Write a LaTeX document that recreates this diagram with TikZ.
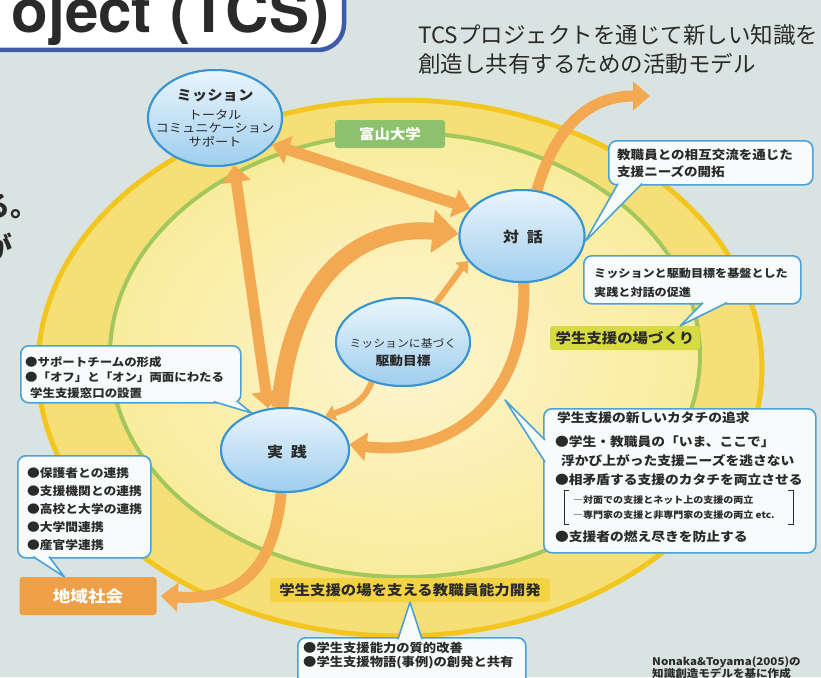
\documentclass[tikz,border=0pt]{standalone}
\usepackage{fontspec}
\setmainfont{Noto Sans CJK JP}
\newfontfamily\jpw[FakeStretch=1.1]{Noto Sans CJK JP}
\newfontfamily\heros{TeX Gyre Heros}
\usetikzlibrary{shapes.geometric,arrows.meta}
\definecolor{bgc}{HTML}{D9E3E1}
\definecolor{bandc}{HTML}{F6DF76}
\definecolor{innerc}{HTML}{FAEC9C}
\definecolor{innerl}{HTML}{FCF5D0}
\definecolor{rimy}{HTML}{F2C61F}
\definecolor{rimg}{HTML}{A2C75C}
\definecolor{ellb}{HTML}{3894D2}
\definecolor{elltop}{HTML}{EAF5FC}
\definecolor{ellbot}{HTML}{9FCEEE}
\definecolor{arr}{HTML}{F3A952}
\definecolor{callb}{HTML}{4AA2D8}
\definecolor{callf}{HTML}{F8FBFB}
\definecolor{titleb}{HTML}{3D5CA8}
\definecolor{labg}{HTML}{8CC26C}
\definecolor{labyg}{HTML}{D7DB42}
\definecolor{laby}{HTML}{F3D344}
\definecolor{labo}{HTML}{EF9F45}
\definecolor{txt}{HTML}{2A2A2A}
\newcommand{\mytail}[3]{\fill[callf] #1 -- #3 -- #2 -- cycle; \draw[tailline] #1 -- #3 -- #2;}
\begin{document}
\begin{tikzpicture}[x=1pt,y=-1pt,
  bubble/.style={ellipse, draw=ellb, line width=2pt, top color=elltop, bottom color=ellbot, inner sep=0pt},
  callbox/.style={draw=callb, line width=1.6pt, fill=callf, rounded corners=8pt, inner sep=0pt, anchor=north west},
  tailline/.style={draw=callb, line width=1.6pt, line join=round},
  ctext/.style={align=left, anchor=north west, inner sep=0pt, text=txt},
  lab/.style={rounded corners=3pt, inner sep=0pt, font=\jpw\bfseries\fontsize{14}{14}\selectfont},
  orarr/.style={draw=arr, line width=11pt, -{Triangle[length=17pt,width=28pt]}},
  orarr2/.style={draw=arr, line width=11pt, {Triangle[length=17pt,width=28pt]}-{Triangle[length=17pt,width=28pt]}},
  orbig/.style={draw=arr, line width=17pt, -{Triangle[length=26pt,width=42pt]}},
  orsmall/.style={draw=arr, line width=6pt, -{Triangle[length=10pt,width=16pt]}},
  btext/.style={inner sep=0pt, text=txt}
]
\useasboundingbox (0,0) rectangle (821,677);
\clip (0,0) rectangle (821,677);
\fill[bgc] (0,0) rectangle (821,677);

% title box
\draw[titleb, line width=4.5pt, fill=white, rounded corners=26pt] (-40,-40) rectangle (344,50);
\node[btext, anchor=base east, font=\heros\bfseries\fontsize{60}{60}\selectfont] (tt1) at (152,33) {oject};
\node[btext, anchor=base west, font=\heros\bfseries\fontsize{60}{60}\selectfont] (tt2) at (170,33) {(TCS)};

% cut-off text at the left
\node[btext, anchor=west, font=\bfseries\fontsize{28}{28}\selectfont] (frag1) at (-18,207) {る。};
\node[btext, anchor=west, font=\bfseries\fontsize{28}{28}\selectfont] (frag2) at (-16,246) {が};

% heading
\node[btext, anchor=west, font=\fontsize{22.5}{22.5}\selectfont] (h1) at (418,35) {TCSプロジェクトを通じて新しい知識を};
\node[btext, anchor=west, font=\fontsize{22.5}{22.5}\selectfont] (h2) at (418,64) {創造し共有するための活動モデル};

% big ellipses
\fill[bandc] (400,368) ellipse [x radius=362pt, y radius=268pt];
\draw[rimy, line width=5pt] (400,368) ellipse [x radius=362pt, y radius=268pt];
\shade[inner color=innerl, outer color=innerc] (405,355) ellipse [x radius=295pt, y radius=222pt];
\draw[rimg, line width=4pt] (405,355) ellipse [x radius=295pt, y radius=222pt];

% labels
\node[lab, fill=labg, text=white, minimum width=110pt, minimum height=28pt] (toyama) at (390,134) {富山大学};
\node[lab, fill=labyg, text=txt, minimum width=150pt, minimum height=24pt] (ba) at (625,338) {学生支援の場づくり};
\node[lab, fill=laby, text=txt, minimum width=280pt, minimum height=24pt] (dev) at (410,590) {学生支援の場を支える教職員能力開発};
\node[lab, fill=labo, text=white, minimum width=137pt, minimum height=38pt, font=\jpw\bfseries\fontsize{16}{16}\selectfont] (region) at (88,596) {地域社会};

% bubble nodes (placed first so arrows can refer to them)
\node[bubble, minimum width=134pt, minimum height=96pt] (M) at (215,118) {};
\node[bubble, minimum width=125pt, minimum height=92pt] (T) at (522,236) {};
\node[bubble, minimum width=134pt, minimum height=88pt] (K) at (403,342) {};
\node[bubble, minimum width=128pt, minimum height=84pt] (J) at (285,450) {};

% arrows
\coordinate (outp) at (650,96);
\draw[orarr2] (M.-25) -- (T.152);
\draw[orarr2] (M.-68) -- (J.112);
\draw[orarr] (T.-88) .. controls (528,400) and (450,458) .. (J.5);
\draw[orbig] (J.97) .. controls (292,265) and (370,225) .. (T.178);
\draw[orarr] (T.72) .. controls (556,125) and (590,96) .. (outp);
\draw[orarr] (J.-95) .. controls (272,585) and (225,600) .. ([xshift=4pt]region.east);
\draw[orsmall] (K.50) .. controls (450,285) and (460,270) .. (T.-155);
\draw[orsmall] (K.-128) .. controls (366,395) and (360,405) .. (J.40);

% redraw bubbles on top of arrows
\node[bubble, minimum width=134pt, minimum height=96pt] (M2) at (M) {};
\node[bubble, minimum width=125pt, minimum height=92pt] (T2) at (T) {};
\node[bubble, minimum width=134pt, minimum height=88pt] (K2) at (K) {};
\node[bubble, minimum width=128pt, minimum height=84pt] (J2) at (J) {};

% bubble texts
\node[btext, font=\jpw\bfseries\fontsize{14}{14}\selectfont] (Mt1) at (215,96) {ミッション};
\node[btext, font=\jpw\fontsize{12}{12}\selectfont] (Mt2) at (215,115) {トータル};
\node[btext, font=\jpw\fontsize{12}{12}\selectfont] (Mt3) at (215,128.5) {コミュニケーション};
\node[btext, font=\jpw\fontsize{12}{12}\selectfont] (Mt4) at (215,142) {サポート};
\node[btext, font=\jpw\bfseries\fontsize{14.5}{14.5}\selectfont] (Tt) at (523,237) {対\hspace{8pt}話};
\node[btext, font=\jpw\fontsize{10.8}{10.8}\selectfont] (Kt1) at (403,343) {ミッションに基づく};
\node[btext, font=\jpw\bfseries\fontsize{12.5}{12.5}\selectfont] (Kt2) at (403,361) {駆動目標};
\node[btext, font=\jpw\bfseries\fontsize{14.5}{14.5}\selectfont] (Jt) at (287,452) {実\hspace{8pt}践};

% callout A
\node[callbox, minimum width=204pt, minimum height=44pt] (A) at (608,140) {};
\mytail{([xshift=10pt,yshift=2pt]A.south west)}{([xshift=34pt,yshift=2pt]A.south west)}{(T.-5)}
\node[ctext, font=\jpw\bfseries\fontsize{12.3}{17}\selectfont] (At) at (617,148.8) {教職員との相互交流を通じた\\支援ニーズの開拓};

% callout B
\node[callbox, minimum width=217pt, minimum height=48pt] (B) at (583,255) {};
\mytail{([xshift=120pt,yshift=2pt]B.south west)}{([xshift=144pt,yshift=2pt]B.south west)}{([xshift=-20pt]ba.north east)}
\node[ctext, font=\jpw\bfseries\fontsize{11}{19}\selectfont] (Bt) at (594,267.5) {ミッションと駆動目標を基盤とした\\実践と対話の促進};

% callout C
\node[callbox, minimum width=220pt, minimum height=57pt] (C) at (20,345) {};
\mytail{([xshift=-28pt,yshift=2pt]C.south east)}{([xshift=-4pt,yshift=2pt]C.south east)}{(J.132)}
\node[ctext, font=\jpw\bfseries\fontsize{11.3}{15.5}\selectfont] (Ct) at (25,356.4) {●サポートチームの形成\\●「オフ」と「オン」両面にわたる\\\hspace*{5pt}学生支援窓口の設置};

% callout D
\coordinate (dtip) at (505,400);
\node[callbox, minimum width=272pt, minimum height=144pt] (D) at (543,408) {};
\mytail{([xshift=2pt,yshift=-32pt]D.north west)}{([xshift=2pt,yshift=-54pt]D.north west)}{(dtip)}
\node[ctext, font=\jpw\bfseries\fontsize{12.5}{12.5}\selectfont] (Dt1) at (557,411.8) {学生支援の新しいカタチの追求};
\node[ctext, font=\jpw\bfseries\fontsize{12.5}{19}\selectfont] (Dt2) at (555,435.8) {●学生・教職員の「いま、ここで」\\\hspace*{6pt}浮かび上がった支援ニーズを逃さない\\●相矛盾する支援のカタチを両立させる};
\node[ctext, font=\jpw\bfseries\fontsize{9.1}{15}\selectfont] (Dt3) at (573,495.5) {―対面での支援とネット上の支援の両立\\―専門家の支援と非専門家の支援の両立 etc.};
\node[ctext, font=\jpw\bfseries\fontsize{12.5}{12.5}\selectfont] (Dt4) at (555,530.8) {●支援者の燃え尽きを防止する};
\draw[txt, line width=0.9pt] (569,490) -- (564,490) -- (564,524) -- (569,524);
\draw[txt, line width=0.9pt] (788,490) -- (793,490) -- (793,524) -- (788,524);

% callout E
\node[callbox, minimum width=133pt, minimum height=102pt] (E) at (17,455) {};
\mytail{([xshift=16pt,yshift=2pt]E.south west)}{([xshift=32pt,yshift=2pt]E.south west)}{([xshift=45pt]region.north west)}
\node[ctext, font=\jpw\bfseries\fontsize{11.6}{18}\selectfont] (Et) at (27,467.2) {●保護者との連携\\●支援機関との連携\\●高校と大学の連携\\●大学間連携\\●産官学連携};

% callout F
\node[callbox, minimum width=228pt, minimum height=60pt] (F) at (297,637) {};
\mytail{([xshift=101pt,yshift=-2pt]F.north west)}{([xshift=125pt,yshift=-2pt]F.north west)}{(dev.south)}
\node[ctext, font=\jpw\bfseries\fontsize{12.1}{14}\selectfont] (Ft) at (303,642) {●学生支援能力の質的改善\\●学生支援物語(事例)の創発と共有};

% source note
\node[ctext, font=\jpw\bfseries\fontsize{10.5}{12}\selectfont] (src) at (652,656.5) {Nonaka\&Toyama(2005)の\\知識創造モデルを基に作成};
\end{tikzpicture}
\end{document}
